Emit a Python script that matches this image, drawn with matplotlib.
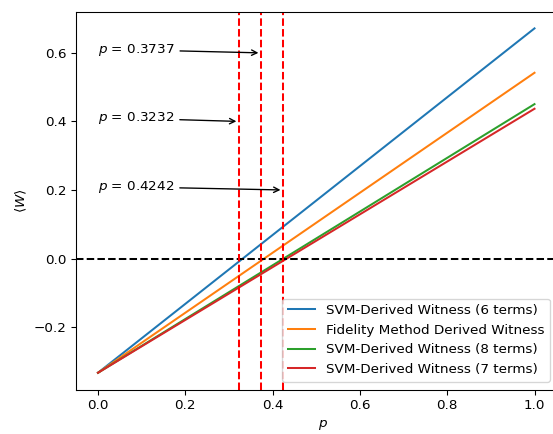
import matplotlib
matplotlib.use("Agg")
import matplotlib.pyplot as plt

p_vals = [0.0, 1.0]
w_svm6 = [-0.3333, 0.6715]
w_fid = [-0.3333, 0.542]
w_svm8 = [-0.3333, 0.4505]
w_svm7 = [-0.3333, 0.437]
labels = ["SVM-Derived Witness (6 terms)", "Fidelity Method Derived Witness",
          "SVM-Derived Witness (8 terms)", "SVM-Derived Witness (7 terms)"]
thresholds = [0.3232, 0.3737, 0.4242]
ann_p = [0.3737, 0.3232, 0.4242]
ann_y = [0.6, 0.4, 0.2]

W, H = 553, 434
dpi = 97
fig = plt.figure(figsize=(W/dpi, H/dpi), dpi=dpi)
# axes spans from x=76.2 px to beyond the right edge (cropped like the reference)
x0px, scale = 98.0, 436.5
left_px, right_px = 76.2, 570.0
ax = fig.add_axes([left_px/W, 44/H, (right_px-left_px)/W, 378/H])

for w, lab in zip([w_svm6, w_fid, w_svm8, w_svm7], labels):
    ax.plot(p_vals, w, label=lab)

ax.axhline(0, color='k', linestyle='--')
for t in thresholds:
    ax.axvline(t, color='r', linestyle='--')

for pv, yv in zip(ann_p, ann_y):
    ax.annotate(f"$p$ = {pv}", xy=(pv, yv), xytext=(0.0, yv),
                arrowprops=dict(arrowstyle='->', color='k'))

ax.set_xlim((left_px - x0px)/scale, (right_px - x0px)/scale)
ax.set_xticks([0.0, 0.2, 0.4, 0.6, 0.8, 1.0])
ax.set_ylim(-0.3836, 0.7193)
ax.spines['right'].set_visible(False)
ax.set_xlabel('$p$')
ax.set_ylabel(r'$\langle W \rangle$')
ax.legend(loc='lower right', bbox_to_anchor=(549.5/W, 52.5/H), bbox_transform=fig.transFigure,
          borderaxespad=0.0)
fig.savefig('out.png', dpi=dpi)
